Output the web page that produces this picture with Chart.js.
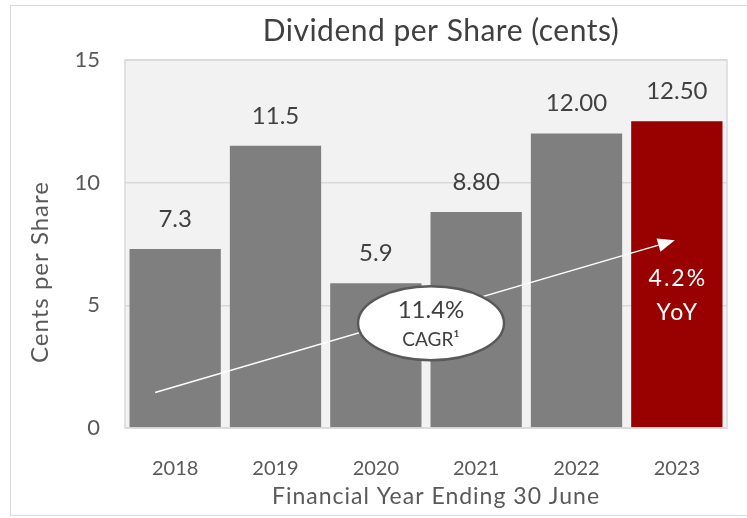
<!DOCTYPE html>
<html>
<head>
<meta charset="utf-8">
<script src="https://cdn.jsdelivr.net/npm/chart.js@4/dist/chart.umd.min.js"></script>
<style>
  body { margin: 0; background: #ffffff; }
  #wrap { width: 747px; height: 518px; }
</style>
</head>
<body>
<div id="wrap"><canvas id="divChart" width="747" height="518"></canvas></div>
<script>
  // chart data
  const years = ['2018', '2019', '2020', '2021', '2022', '2023'];
  const dividends = [7.3, 11.5, 5.9, 8.8, 12.0, 12.5];
  const valueLabels = ['7.3', '11.5', '5.9', '8.80', '12.00', '12.50'];
  const yTicks = [0, 5, 10, 15];

  const chartTitle = 'Dividend per Share (cents)';
  const xTitle = 'Financial Year Ending 30 June';
  const yTitle = 'Cents per Share';

  const FONT = 'Lato, "Open Sans", sans-serif';
  const GREY_BAR = '#7f7f7f';
  const RED_BAR = '#990000';
  const barColors = years.map((y, i) => i === years.length - 1 ? RED_BAR : GREY_BAR);

  // annotation anchors, in data units (category index, value)
  const cagrArrow = { from: [-0.2, 1.45], to: [4.98, 7.65] };
  const cagrBubble = { at: [2.55, 4.27], text: '11.4%', sub: 'CAGR\u00b9' };
  const yoyNote = { at: 5, lines: [['4.2%', 6.1], ['YoY', 4.7]] };

  const frameAndBackground = {
    id: 'frameAndBackground',
    beforeDraw(chart) {
      const { ctx, chartArea: a } = chart;
      ctx.save();
      // outer frame
      ctx.strokeStyle = '#d9d9d9';
      ctx.lineWidth = 1;
      ctx.strokeRect(10.5, 5.5, 760, 510);
      // plot area fill
      ctx.fillStyle = '#f2f2f2';
      ctx.fillRect(a.left, a.top, a.right - a.left, a.bottom - a.top);
      ctx.restore();
    },
    afterDraw(chart) {
      const { ctx, chartArea: a } = chart;
      ctx.save();
      ctx.strokeStyle = '#d9d9d9';
      ctx.lineWidth = 1.5;
      ctx.strokeRect(a.left, a.top, a.right - a.left, a.bottom - a.top);

      // titles (drawn by hand so they can be letter-spaced like the original)
      const midX = (a.left + a.right) / 2;
      const midY = (a.top + a.bottom) / 2;
      ctx.textAlign = 'center';
      ctx.textBaseline = 'middle';
      ctx.fillStyle = '#404040';
      ctx.font = '30px ' + FONT;
      ctx.letterSpacing = '0.5px';
      ctx.fillText(chartTitle, midX + 15, 31);

      ctx.fillStyle = '#595959';
      ctx.font = '23px ' + FONT;
      ctx.letterSpacing = '1px';
      ctx.fillText(xTitle, midX + 10, 497);

      ctx.font = '24px ' + FONT;
      ctx.translate(40, midY + 28);
      ctx.rotate(-Math.PI / 2);
      ctx.fillText(yTitle, 0, 0);
      ctx.restore();
    }
  };

  const annotations = {
    id: 'annotations',
    afterDatasetsDraw(chart) {
      const { ctx, scales } = chart;
      const meta = chart.getDatasetMeta(0);
      ctx.save();

      // value labels above bars
      ctx.font = '24px ' + FONT;
      ctx.fillStyle = '#404040';
      ctx.textAlign = 'center';
      ctx.textBaseline = 'middle';
      meta.data.forEach((bar, i) => {
        ctx.fillText(valueLabels[i], bar.x, bar.y - 30);
      });

      // CAGR arrow
      const x1 = scales.x.getPixelForValue(cagrArrow.from[0]);
      const y1 = scales.y.getPixelForValue(cagrArrow.from[1]);
      const x2 = scales.x.getPixelForValue(cagrArrow.to[0]);
      const y2 = scales.y.getPixelForValue(cagrArrow.to[1]);
      const ang = Math.atan2(y2 - y1, x2 - x1);
      const headLen = 17, headW = 7;
      ctx.strokeStyle = '#ffffff';
      ctx.fillStyle = '#ffffff';
      ctx.lineWidth = 1.5;
      ctx.beginPath();
      ctx.moveTo(x1, y1);
      ctx.lineTo(x2 - headLen * Math.cos(ang), y2 - headLen * Math.sin(ang));
      ctx.stroke();
      ctx.beginPath();
      ctx.moveTo(x2, y2);
      ctx.lineTo(x2 - headLen * Math.cos(ang) + headW * Math.sin(ang),
                 y2 - headLen * Math.sin(ang) - headW * Math.cos(ang));
      ctx.lineTo(x2 - headLen * Math.cos(ang) - headW * Math.sin(ang),
                 y2 - headLen * Math.sin(ang) + headW * Math.cos(ang));
      ctx.closePath();
      ctx.fill();

      // CAGR bubble
      const cx = scales.x.getPixelForValue(cagrBubble.at[0]);
      const cy = scales.y.getPixelForValue(cagrBubble.at[1]);
      ctx.beginPath();
      ctx.ellipse(cx, cy, 73, 37, 0, 0, Math.PI * 2);
      ctx.fillStyle = '#ffffff';
      ctx.fill();
      ctx.strokeStyle = '#595959';
      ctx.lineWidth = 2.5;
      ctx.stroke();
      ctx.fillStyle = '#404040';
      ctx.font = '24px ' + FONT;
      ctx.fillText(cagrBubble.text, cx, cy - 13);
      ctx.font = '19px ' + FONT;
      ctx.fillText(cagrBubble.sub, cx, cy + 17);

      // YoY note in the last bar
      ctx.fillStyle = '#ffffff';
      ctx.font = '23px ' + FONT;
      ctx.letterSpacing = '2px';
      const nx = scales.x.getPixelForValue(yoyNote.at);
      yoyNote.lines.forEach(([txt, v]) => {
        ctx.fillText(txt, nx + 1, scales.y.getPixelForValue(v));
      });

      ctx.restore();
    }
  };

  const ctx = document.getElementById('divChart').getContext('2d');
  const divChart = new Chart(ctx, {
    type: 'bar',
    data: {
      labels: years,
      datasets: [{
        data: dividends,
        backgroundColor: barColors,
        borderWidth: 0,
        barPercentage: 0.91,
        categoryPercentage: 1.0
      }]
    },
    options: {
      responsive: false,
      animation: false,
      layout: { padding: { left: 0, right: 20, top: 60, bottom: 0 } },
      plugins: {
        legend: { display: false },
        tooltip: { enabled: false },
        title: { display: false }
      },
      scales: {
        x: {
          grid: { display: false },
          border: { display: false },
          ticks: {
            color: '#595959',
            font: { family: FONT, size: 20 },
            padding: 21
          },
          afterFit(scale) { scale.height = 90; }
        },
        y: {
          min: 0,
          max: 15,
          afterBuildTicks(scale) { scale.ticks = yTicks.map(v => ({ value: v })); },
          grid: { color: '#d9d9d9', lineWidth: 1.5, drawTicks: false },
          border: { display: false },
          ticks: {
            color: '#595959',
            font: { family: FONT, size: 22 },
            padding: 25
          },
          afterFit(scale) { scale.width = 125; }
        }
      }
    },
    plugins: [frameAndBackground, annotations]
  });
</script>
</body>
</html>
